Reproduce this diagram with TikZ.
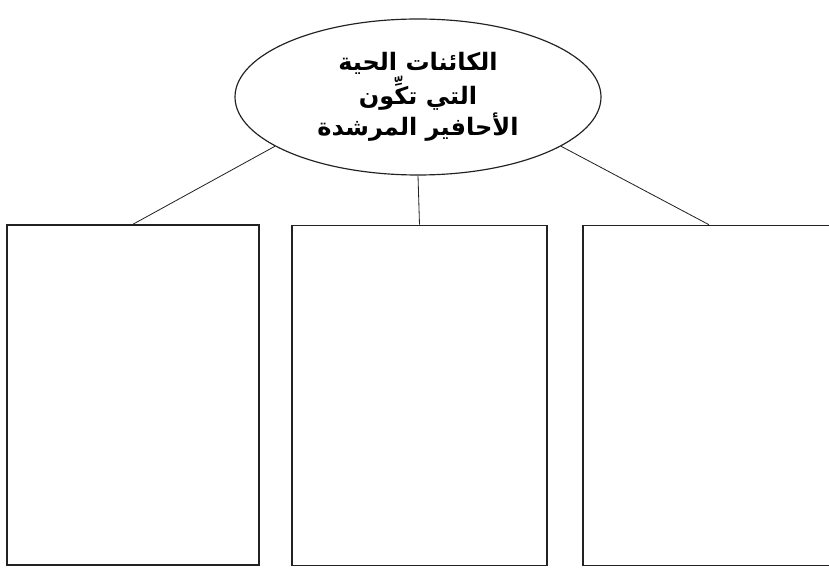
\documentclass[tikz,border=0pt]{standalone}
\usepackage{fontspec}
\newfontfamily\arabicfont[Script=Arabic]{DejaVu Sans}
\TeXXeTstate=1
\usetikzlibrary{shapes.geometric}
\definecolor{mapLine}{HTML}{222222}
\tikzset{
  mapfig/.style={x=0.03cm, y=-0.03cm},
  topicnode/.style={
    draw=mapLine, line width=1pt, ellipse, align=center, inner sep=0pt,
    minimum width=366*0.03cm, minimum height=156*0.03cm,
    font=\arabicfont\bfseries\fontsize{20.5}{26.5}\selectfont,
  },
  slotnode/.style={
    draw=mapLine, line width=1.3pt, inner sep=0pt,
    minimum width=252*0.03cm, minimum height=340*0.03cm,
  },
  link/.style={draw=mapLine, line width=0.7pt},
}
\begin{document}
\begin{tikzpicture}[mapfig]
  \useasboundingbox (0,0) rectangle (829,571);
  \node[topicnode] (topic) at (418,97)
    {\beginR الكائنات الحية\endR\\ \beginR التي تكِّون\endR\\ \beginR الأحافير المرشدة\endR};
  % three empty boxes below
  \node[slotnode] (left) at (133,395) {};
  \node[slotnode, minimum width=255*0.03cm] (mid) at (419.5,395.5) {};
  \node[slotnode] (right) at (709,395.5) {};
  \draw[link] (topic.-161) -- (left.north);
  \draw[link] (topic.south) -- (mid.north);
  \draw[link] (topic.-19) -- (right.north);
\end{tikzpicture}
\end{document}
